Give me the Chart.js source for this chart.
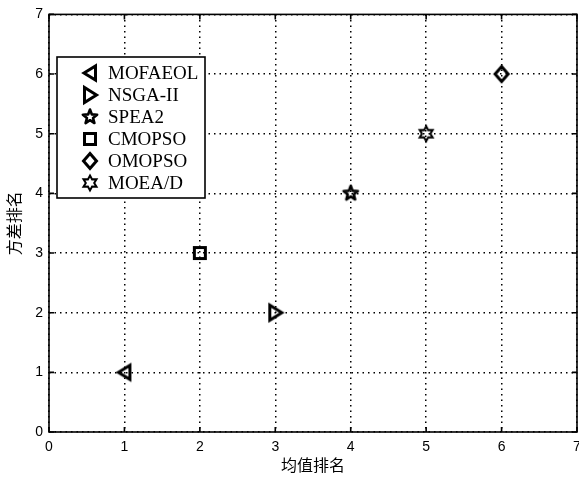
<!DOCTYPE html>
<html>
<head>
<meta charset="utf-8">
<script src="https://cdn.jsdelivr.net/npm/chart.js@4.4.1/dist/chart.umd.min.js"></script>
<style>
html, body { margin: 0; padding: 0; background: #fff; }
canvas { display: block; }
</style>
</head>
<body>
<canvas id="rankChart" width="579" height="478"></canvas>
<script>
// data
var algorithms = ['MOFAEOL', 'NSGA-II', 'SPEA2', 'CMOPSO', 'OMOPSO', 'MOEA/D'];
var meanRank = [1, 3, 4, 2, 6, 5];
var varRank = [1, 2, 4, 3, 6, 5];
var markerShapes = ['triangleLeft', 'triangleRight', 'star', 'square', 'diamond', 'hexagram'];
var axisTicks = [0, 1, 2, 3, 4, 5, 6, 7];

// open MATLAB-like markers drawn into small canvases
function makeMarker(shape) {
    var c = document.createElement('canvas');
    c.width = 24;
    c.height = 24;
    var g = c.getContext('2d');
    g.translate(12, 12);
    g.strokeStyle = '#000';
    g.lineWidth = 3;
    g.lineJoin = 'miter';
    g.beginPath();
    var i, a, r;
    if (shape === 'triangleLeft') {
        g.moveTo(-6, 0); g.lineTo(5.5, -7); g.lineTo(5.5, 7);
    } else if (shape === 'triangleRight') {
        g.moveTo(6.5, 0); g.lineTo(-5.5, -7.5); g.lineTo(-5.5, 7.5);
    } else if (shape === 'square') {
        g.rect(-5.5, -5.5, 11, 11);
    } else if (shape === 'diamond') {
        g.moveTo(0, -7.5); g.lineTo(6.5, 0); g.lineTo(0, 7.5); g.lineTo(-6.5, 0);
    } else if (shape === 'star') {
        g.lineWidth = 2.6;
        g.lineJoin = 'round';
        for (i = 0; i < 10; i++) {
            a = -Math.PI / 2 + i * Math.PI / 5;
            r = i % 2 ? 3.2 : 7.5;
            g.lineTo(r * Math.cos(a), r * Math.sin(a));
        }
    } else if (shape === 'hexagram') {
        g.lineWidth = 2;
        for (i = 0; i < 12; i++) {
            a = -Math.PI / 2 + i * Math.PI / 6;
            r = i % 2 ? 4.2 : 7.5;
            g.lineTo(r * Math.cos(a), r * Math.sin(a));
        }
    }
    g.closePath();
    g.stroke();
    return c;
}

var markers = markerShapes.map(makeMarker);

// box, inward ticks and the boxed legend
var matlabFrame = {
    id: 'matlabFrame',
    afterDraw: function (chart) {
        var ctx = chart.ctx;
        var area = chart.chartArea;
        var xs = chart.scales.x, ys = chart.scales.y;
        ctx.save();
        ctx.strokeStyle = '#000';
        ctx.lineWidth = 1.6;
        ctx.strokeRect(area.left, area.top, area.right - area.left, area.bottom - area.top);
        ctx.beginPath();
        axisTicks.forEach(function (v) {
            var px = xs.getPixelForValue(v), py = ys.getPixelForValue(v);
            ctx.moveTo(px, area.bottom); ctx.lineTo(px, area.bottom - 5);
            ctx.moveTo(px, area.top); ctx.lineTo(px, area.top + 5);
            ctx.moveTo(area.left, py); ctx.lineTo(area.left + 5, py);
            ctx.moveTo(area.right, py); ctx.lineTo(area.right - 5, py);
        });
        ctx.stroke();

        // legend
        var lx = 57, ly = 57, lw = 148, lh = 141;
        ctx.fillStyle = '#fff';
        ctx.fillRect(lx, ly, lw, lh);
        ctx.strokeRect(lx, ly, lw, lh);
        ctx.fillStyle = '#000';
        ctx.font = '19px "Liberation Serif"';
        ctx.textBaseline = 'middle';
        chart.data.datasets.forEach(function (ds, i) {
            var cy = 73 + i * 22;
            ctx.drawImage(ds.pointStyle, 90 - 12, cy - 12);
            ctx.fillText(ds.label, 108, cy + 1);
        });
        ctx.restore();
    }
};

var datasets = algorithms.map(function (name, i) {
    return {
        label: name,
        data: [{ x: meanRank[i], y: varRank[i] }],
        pointStyle: markers[i],
        pointRadius: 8,
        borderColor: '#000',
        backgroundColor: '#000'
    };
});

var tickFont = { family: '"Liberation Sans", Arial, sans-serif', size: 14 };
var titleFont = { family: '"Noto Sans CJK SC", sans-serif', size: 16 };

new Chart(document.getElementById('rankChart').getContext('2d'), {
    type: 'scatter',
    data: { datasets: datasets },
    plugins: [matlabFrame],
    options: {
        responsive: false,
        animation: false,
        layout: { autoPadding: false, padding: { top: 12, right: 2, left: 0, bottom: 0 } },
        plugins: {
            legend: { display: false },
            tooltip: { enabled: false }
        },
        scales: {
            x: {
                min: 0, max: 7,
                afterFit: function (scale) {
                    // the last label may run off the edge, as in the original
                    scale.height = 46;
                    scale.paddingLeft = 0;
                    scale.paddingRight = 0;
                    if (scale._margins) {
                        scale._margins.left = 0;
                        scale._margins.right = 0;
                    }
                },
                ticks: { stepSize: 1, color: '#000', font: tickFont, padding: 7, maxRotation: 0 },
                grid: { color: '#000', lineWidth: 1.5, drawTicks: false },
                border: { display: false, dash: [1.5, 4] },
                title: { display: true, text: '均值排名', color: '#000', font: titleFont, padding: { top: 0, bottom: 3 } }
            },
            y: {
                min: 0, max: 7,
                afterFit: function (scale) { scale.width = 49; },
                ticks: { stepSize: 1, color: '#000', font: tickFont, padding: 6 },
                grid: { color: '#000', lineWidth: 1.5, drawTicks: false },
                border: { display: false, dash: [1.5, 4] },
                title: { display: true, text: '方差排名', color: '#000', font: titleFont, padding: { top: 4, bottom: 0 } }
            }
        }
    }
});
</script>
</body>
</html>
